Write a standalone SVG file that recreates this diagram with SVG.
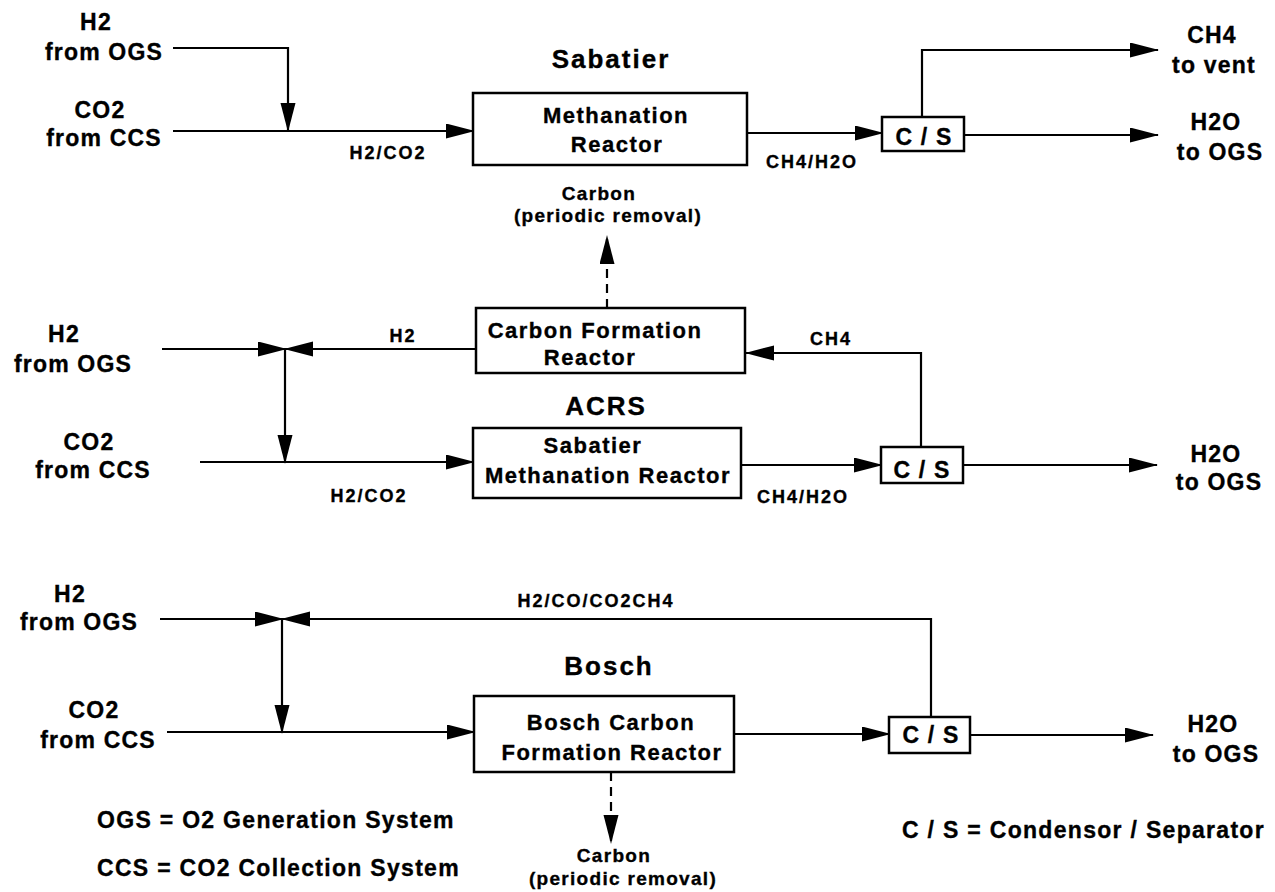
<svg xmlns="http://www.w3.org/2000/svg" width="1275" height="892" viewBox="0 0 1275 892">
<style>
.t{font-family:"Liberation Sans",Arial,Helvetica,sans-serif;font-weight:bold;fill:#000;stroke:#000;stroke-width:0.35}
.lbl{font-size:23px;letter-spacing:1.2px;text-anchor:middle}
.bt{font-size:22px;letter-spacing:1.5px;text-anchor:middle}
.ttl{font-size:26px;letter-spacing:2px;text-anchor:middle}
.sm{font-size:18px;letter-spacing:2px;text-anchor:middle}
.cb{font-size:19px;letter-spacing:1.3px;text-anchor:middle}
.leg{font-size:23px;letter-spacing:1.3px}
.box{fill:#fff;stroke:#000;stroke-width:2.5}
.ln{fill:none;stroke:#000;stroke-width:2.2;marker-end:url(#ah)}
.dash{stroke-dasharray:9 6}
</style>
<defs>
<marker id="ah" markerUnits="userSpaceOnUse" markerWidth="32" markerHeight="16" refX="28" refY="7.5" orient="auto">
<path d="M0,0 L29,7.5 L0,15 Z" fill="#000"/>
</marker>
</defs>
<rect width="1275" height="892" fill="#fff"/>

<g id="connectors">
<path class="ln" d="M173,48 H288 V131"/>
<path class="ln" d="M173,131 H474"/>
<path class="ln" d="M747,133 H883"/>
<path class="ln" d="M922,117 V50 H1158"/>
<path class="ln" d="M964,135 H1158"/>
<path class="ln dash" d="M607,308 V236"/>
<path class="ln" d="M162,349 H286"/>
<path class="ln" d="M476,349 H285"/>
<path class="ln" d="M285,349 V463"/>
<path class="ln" d="M200,462 H474"/>
<path class="ln" d="M741,465 H882"/>
<path class="ln" d="M921,447 V353 H746"/>
<path class="ln" d="M963,465 H1157"/>
<path class="ln" d="M160,619 H283"/>
<path class="ln" d="M931,717 V619 H282"/>
<path class="ln" d="M282,619 V733"/>
<path class="ln" d="M167,732 H475"/>
<path class="ln" d="M734,734 H890"/>
<path class="ln" d="M970,735 H1153"/>
<path class="ln dash" d="M611,772 V843"/>
<text class="t sm" x="388" y="159">H2/CO2</text>
<text class="t sm" x="812" y="168">CH4/H2O</text>
<text class="t sm" x="403" y="342">H2</text>
<text class="t sm" x="831" y="345">CH4</text>
<text class="t sm" x="369" y="502">H2/CO2</text>
<text class="t sm" x="803" y="503">CH4/H2O</text>
<text class="t sm" x="596" y="607">H2/CO/CO2CH4</text>
</g>

<g id="sab-h2-in"><text class="t lbl" x="96" y="30">H2</text><text class="t lbl" x="104" y="60">from OGS</text></g>
<g id="sab-co2-in"><text class="t lbl" x="100" y="118">CO2</text><text class="t lbl" x="104" y="146">from CCS</text></g>
<g id="sab-title"><text class="t ttl" x="611" y="68">Sabatier</text></g>
<g id="sab-reactor"><rect class="box" x="473" y="93" width="274" height="72"/><text class="t bt" x="616" y="123">Methanation</text><text class="t bt" x="617" y="152">Reactor</text></g>
<g id="sab-cs"><rect class="box" x="882" y="117" width="82" height="34"/><text class="t lbl" x="924" y="145">C / S</text></g>
<g id="sab-ch4-out"><text class="t lbl" x="1212" y="43">CH4</text><text class="t lbl" x="1214" y="73">to vent</text></g>
<g id="sab-h2o-out"><text class="t lbl" x="1216" y="130">H2O</text><text class="t lbl" x="1220" y="160">to OGS</text></g>
<g id="acrs-carbon-out"><text class="t cb" x="599" y="200">Carbon</text><text class="t cb" x="608" y="222">(periodic removal)</text></g>

<g id="acrs-cfr"><rect class="box" x="476" y="308" width="269" height="65"/><text class="t bt" x="595" y="338">Carbon Formation</text><text class="t bt" x="590" y="365">Reactor</text></g>
<g id="acrs-h2-in"><text class="t lbl" x="64" y="342">H2</text><text class="t lbl" x="73" y="372">from OGS</text></g>
<g id="acrs-co2-in"><text class="t lbl" x="89" y="450">CO2</text><text class="t lbl" x="93" y="478">from CCS</text></g>
<g id="acrs-title"><text class="t ttl" x="606" y="415">ACRS</text></g>
<g id="acrs-reactor"><rect class="box" x="473" y="428" width="268" height="70"/><text class="t bt" x="593" y="453">Sabatier</text><text class="t bt" x="608" y="483">Methanation Reactor</text></g>
<g id="acrs-cs"><rect class="box" x="881" y="447" width="82" height="36"/><text class="t lbl" x="922" y="478">C / S</text></g>
<g id="acrs-h2o-out"><text class="t lbl" x="1216" y="462">H2O</text><text class="t lbl" x="1219" y="490">to OGS</text></g>

<g id="bosch-h2-in"><text class="t lbl" x="70" y="602">H2</text><text class="t lbl" x="79" y="630">from OGS</text></g>
<g id="bosch-co2-in"><text class="t lbl" x="94" y="718">CO2</text><text class="t lbl" x="98" y="748">from CCS</text></g>
<g id="bosch-title"><text class="t ttl" x="609" y="675">Bosch</text></g>
<g id="bosch-reactor"><rect class="box" x="474" y="696" width="260" height="76"/><text class="t bt" x="611" y="730">Bosch Carbon</text><text class="t bt" x="612" y="760">Formation Reactor</text></g>
<g id="bosch-cs"><rect class="box" x="889" y="717" width="81" height="36"/><text class="t lbl" x="931" y="743">C / S</text></g>
<g id="bosch-h2o-out"><text class="t lbl" x="1213" y="732">H2O</text><text class="t lbl" x="1216" y="762">to OGS</text></g>
<g id="bosch-carbon-out"><text class="t cb" x="614" y="862">Carbon</text><text class="t cb" x="623" y="885">(periodic removal)</text></g>

<g id="legend">
<text class="t leg" x="97" y="828">OGS = O2 Generation System</text>
<text class="t leg" x="97" y="876">CCS = CO2 Collection System</text>
<text class="t leg" x="902" y="838">C / S = Condensor / Separator</text>
</g>
</svg>
